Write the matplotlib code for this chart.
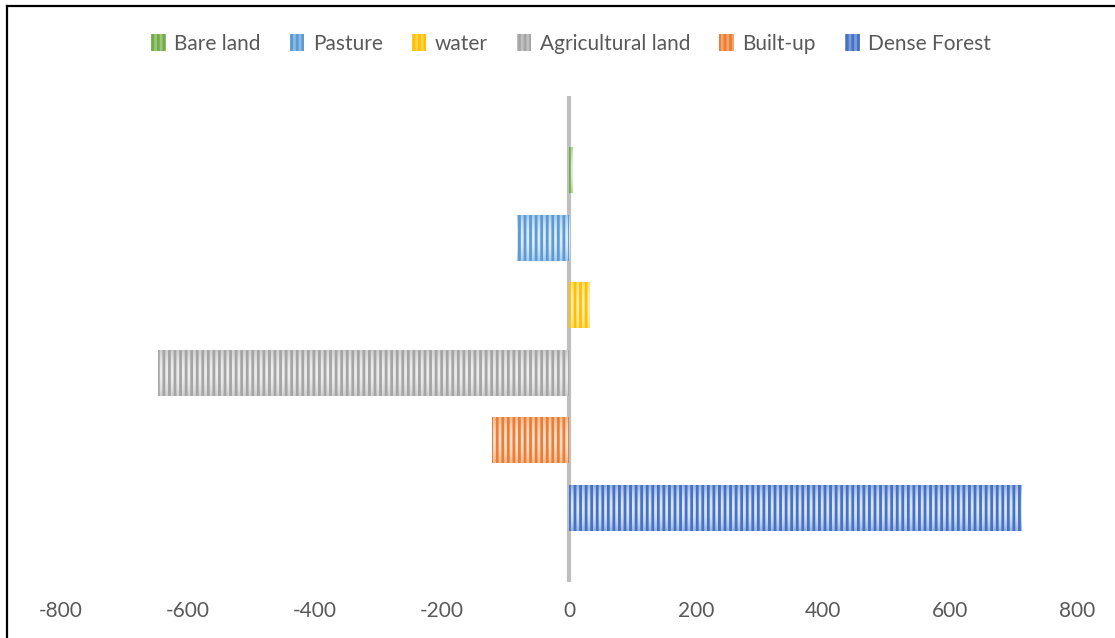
import numpy as np
import matplotlib.pyplot as plt
from matplotlib.colors import LinearSegmentedColormap, to_rgb
from matplotlib.lines import Line2D
from matplotlib.patches import Patch

# net change per land cover class, bottom to top
classes = ["Dense Forest", "Built-up", "Agricultural land", "water", "Pasture", "Bare land"]
change = [712, -121, -647, 33, -82, 5]
colors = ["#4472C4", "#ED7D31", "#A5A5A5", "#FFC000", "#5B9BD5", "#70AD47"]
tints = ["#DCE5F5", "#FBE0CF", "#EDEDED", "#FFEDB3", "#DDEBF7", "#DDEDD3"]
xticks = [-800, -600, -400, -200, 0, 200, 400, 600, 800]

plt.rcParams["font.family"] = ["Lato", "DejaVu Sans"]
plt.rcParams["hatch.linewidth"] = 2.0


def mix(c1, c2, t):
    a, b = np.array(to_rgb(c1)), np.array(to_rgb(c2))
    return tuple(a * (1 - t) + b * t)


fig = plt.figure(figsize=(11.15, 6.38), dpi=100)
ax = fig.add_axes([0.0547, 0.0878, 0.9112, 0.7618])

bar_h = 0.68
profile = 1 - np.abs(np.linspace(-1, 1, 64)) ** 2
for i, (name, val) in enumerate(zip(classes, change)):
    bars = ax.barh(i, val, height=bar_h, facecolor="none", edgecolor=colors[i],
                   hatch="|||", linewidth=0, zorder=3)
    # soft gradient fill behind the stripes
    cmap = LinearSegmentedColormap.from_list(
        name, [mix(colors[i], "white", 0.45), tints[i]])
    im = ax.imshow(profile[:, None], cmap=cmap, aspect="auto", vmin=0, vmax=1,
                   extent=(min(0, val), max(0, val), i - bar_h / 2, i + bar_h / 2),
                   zorder=2, interpolation="bilinear")
    im.set_clip_path(bars.patches[0])

ax.axvline(0, color="#BFBFBF", lw=3, zorder=1)

ax.set_xlim(-800, 800)
ax.set_ylim(-1.095, len(classes) - 1 + 1.095)
ax.set_xticks(xticks)
ax.set_xticklabels([str(t) for t in xticks], fontsize=15, color="#595959")
ax.set_yticks([])
ax.tick_params(axis="x", length=0, pad=14)
for s in ax.spines.values():
    s.set_visible(False)

handles = [Patch(facecolor=mix(c, "white", 0.3), edgecolor=c, hatch="|||", linewidth=0)
           for c in colors]
fig.legend(handles[::-1], classes[::-1], loc="center", ncol=6,
           bbox_to_anchor=(571 / 1115, 0.931), frameon=False,
           fontsize=15, labelcolor="#595959", handlelength=0.7,
           handleheight=0.9, handletextpad=0.4, columnspacing=1.4)

# chart frame on the top and left edges
fig.add_artist(Line2D([7 / 1115, 1], [1 - 6 / 638, 1 - 6 / 638], color="black", lw=1.6))
fig.add_artist(Line2D([7 / 1115, 7 / 1115], [0, 1 - 6 / 638], color="black", lw=1.6))

fig.savefig("out.png", dpi=100)
